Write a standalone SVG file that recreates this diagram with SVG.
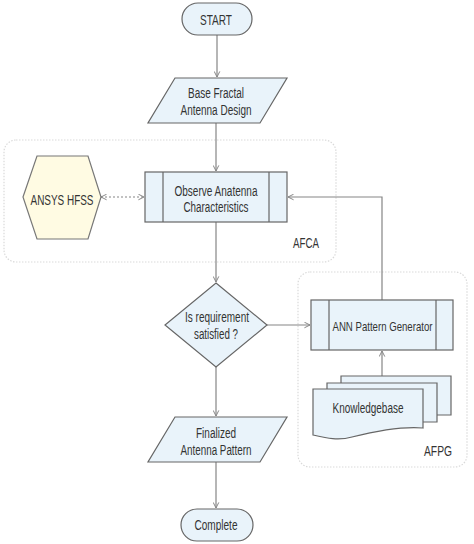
<svg xmlns="http://www.w3.org/2000/svg" width="474" height="544" viewBox="0 0 474 544">
<style>
.node{fill:#e9f3fa;stroke:#666;stroke-width:1.2}
.hex{fill:#fffbe3;stroke:#777;stroke-width:1.2}
.grp{fill:none;stroke:#d9d9d9;stroke-width:1.2;stroke-dasharray:1.5 1.5}
.t{font-family:"Liberation Sans",Arial,sans-serif;font-size:15.5px;fill:#333;text-anchor:middle}
.lbl{font-family:"Liberation Sans",Arial,sans-serif;font-size:15.5px;fill:#333}
.c{fill:none;stroke:#858585;stroke-width:1.2}
.d{fill:none;stroke:#858585;stroke-width:1.2;stroke-dasharray:2 2}
</style>
<defs>
<marker id="arr" viewBox="0 0 10 10" refX="9" refY="5" markerWidth="7" markerHeight="7" orient="auto-start-reverse" markerUnits="userSpaceOnUse">
<path d="M1,1 L9,5 L1,9" fill="none" stroke="#858585" stroke-width="1.4"/>
</marker>
</defs>

<g id="group-afca">
<rect class="grp" x="4" y="140" width="332" height="122" rx="12"/>
<text class="lbl" x="293" y="248" textLength="26" lengthAdjust="spacingAndGlyphs">AFCA</text>
</g>
<g id="group-afpg">
<rect class="grp" x="298" y="272" width="169" height="195" rx="12"/>
<text class="lbl" x="424" y="456" textLength="28" lengthAdjust="spacingAndGlyphs">AFPG</text>
</g>

<g id="connectors">
<line class="c" x1="217" y1="35" x2="217" y2="77" marker-end="url(#arr)"/>
<line class="c" x1="216" y1="123" x2="216" y2="171" marker-end="url(#arr)"/>
<line class="d" x1="101" y1="197" x2="144" y2="197" marker-start="url(#arr)" marker-end="url(#arr)"/>
<line class="c" x1="216" y1="222" x2="216" y2="282" marker-end="url(#arr)"/>
<line class="c" x1="267" y1="325" x2="310" y2="325" marker-end="url(#arr)"/>
<polyline class="c" points="382,300 382,197 288,197" marker-end="url(#arr)"/>
<line class="c" x1="382" y1="376" x2="382" y2="351" marker-end="url(#arr)"/>
<line class="c" x1="216" y1="367" x2="216" y2="416" marker-end="url(#arr)"/>
<line class="c" x1="216" y1="462" x2="216" y2="508" marker-end="url(#arr)"/>
</g>

<g id="start">
<rect class="node" x="182" y="3" width="70" height="32" rx="16"/>
<text class="t" x="216" y="25" textLength="32" lengthAdjust="spacingAndGlyphs">START</text>
</g>

<g id="base-design">
<polygon class="node" points="175,78 287,78 260,123 148,123"/>
<text class="t" x="216" y="98" textLength="56" lengthAdjust="spacingAndGlyphs">Base Fractal</text>
<text class="t" x="216" y="115" textLength="71" lengthAdjust="spacingAndGlyphs">Antenna Design</text>
</g>

<g id="ansys-hfss">
<polygon class="hex" points="23,197 37,156 88,156 101,197 88,239 37,239"/>
<text class="t" x="62" y="205" textLength="63" lengthAdjust="spacingAndGlyphs">ANSYS HFSS</text>
</g>

<g id="observe">
<rect class="node" x="145" y="172" width="142" height="50"/>
<line class="node" x1="163" y1="172" x2="163" y2="222"/>
<line class="node" x1="269" y1="172" x2="269" y2="222"/>
<text class="t" x="216" y="196" textLength="83" lengthAdjust="spacingAndGlyphs">Observe Anatenna</text>
<text class="t" x="216" y="212" textLength="65" lengthAdjust="spacingAndGlyphs">Characteristics</text>
</g>

<g id="decision">
<polygon class="node" points="216,283 267,325 216,367 165,325"/>
<text class="t" x="217" y="322" textLength="64" lengthAdjust="spacingAndGlyphs">Is requirement</text>
<text class="t" x="216" y="339" textLength="44" lengthAdjust="spacingAndGlyphs">satisfied ?</text>
</g>

<g id="ann">
<rect class="node" x="311" y="300" width="142" height="50"/>
<line class="node" x1="329" y1="300" x2="329" y2="350"/>
<line class="node" x1="436" y1="300" x2="436" y2="350"/>
<text class="t" x="382.5" y="330.5" style="font-size:13.5px" textLength="100" lengthAdjust="spacingAndGlyphs">ANN Pattern Generator</text>
</g>

<g id="knowledgebase">
<path class="node" d="M341,376 H451 V415 H341 Z"/>
<path class="node" d="M327,383 H437 V422 H327 Z"/>
<path class="node" d="M313,389 H423 V428 C400,426 372,432 352,437 C338,441 326,438 313,435 Z"/>
<text class="t" x="368" y="413" textLength="71" lengthAdjust="spacingAndGlyphs">Knowledgebase</text>
</g>

<g id="finalized">
<polygon class="node" points="175,417 287,417 260,462 148,462"/>
<text class="t" x="216" y="438" textLength="40" lengthAdjust="spacingAndGlyphs">Finalized</text>
<text class="t" x="216" y="455" textLength="71" lengthAdjust="spacingAndGlyphs">Antenna Pattern</text>
</g>

<g id="complete">
<rect class="node" x="181" y="509" width="72" height="32" rx="16"/>
<text class="t" x="216" y="530" textLength="43" lengthAdjust="spacingAndGlyphs">Complete</text>
</g>
</svg>
